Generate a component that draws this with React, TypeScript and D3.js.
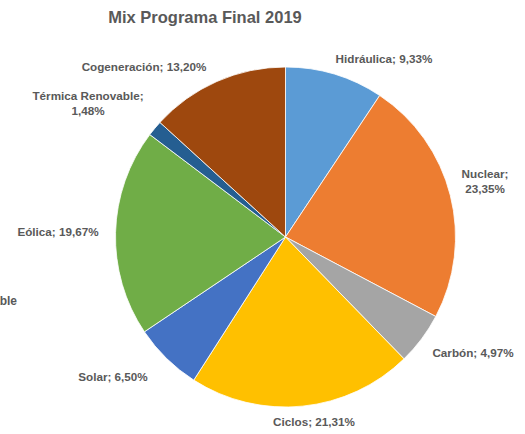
import React, { useMemo } from "react";
import * as d3 from "d3";

// ===== data =====
const categories = [
  "Hidráulica",
  "Nuclear",
  "Carbón",
  "Ciclos",
  "Solar",
  "Eólica",
  "Térmica Renovable",
  "Cogeneración",
];
const values = [9.33, 23.35, 4.97, 21.31, 6.5, 19.67, 1.48, 13.2];
const colors = [
  "#5B9BD5",
  "#ED7D31",
  "#A5A5A5",
  "#FFC000",
  "#4472C4",
  "#70AD47",
  "#255E91",
  "#9E480E",
];

// label layout (text lines + centre point), not data
const labelLines: string[][] = [
  ["Hidráulica; 9,33%"],
  ["Nuclear;", "23,35%"],
  ["Carbón; 4,97%"],
  ["Ciclos; 21,31%"],
  ["Solar; 6,50%"],
  ["Eólica; 19,67%"],
  ["Térmica Renovable;", "1,48%"],
  ["Cogeneración; 13,20%"],
];
const labelPos: [number, number][] = [
  [384, 63],
  [485, 185],
  [473, 357],
  [314, 426],
  [113, 381],
  [58, 236],
  [88, 107],
  [144, 71],
];

const W = 525;
const H = 434;
const TEXT = "#595959";
const FONT = "'Liberation Sans', Arial, sans-serif";

export default function App() {
  const cx = 285.5;
  const cy = 237;
  const r = 170;

  const arcs = useMemo(() => {
    const pie = d3
      .pie<number>()
      .sort(null)
      .value((d) => d);
    return pie(values);
  }, []);

  const arc = d3.arc<d3.PieArcDatum<number>>().innerRadius(0).outerRadius(r);

  return (
    <svg
      width={W}
      height={H}
      style={{ position: "absolute", left: 0, top: 0, background: "#fff" }}
      fontFamily={FONT}
    >
      <text
        x={205}
        y={23}
        textAnchor="middle"
        fontSize={16.5}
        fontWeight="bold"
        fill={TEXT}
      >
        Mix Programa Final 2019
      </text>

      <g transform={`translate(${cx},${cy})`}>
        {arcs.map((a, i) => (
          <path
            key={categories[i]}
            d={arc(a) || ""}
            fill={colors[i]}
            stroke="#fff"
            strokeWidth={0.8}
          />
        ))}
      </g>

      {labelLines.map((lines, i) => (
        <text
          key={i}
          textAnchor="middle"
          fontSize={11.7}
          fontWeight="bold"
          fill={TEXT}
        >
          {lines.map((l, j) => (
            <tspan
              key={j}
              x={labelPos[i][0]}
              y={labelPos[i][1] - (lines.length - 1) * 7.5 + j * 15}
            >
              {l}
            </tspan>
          ))}
        </text>
      ))}

      {/* legend entry partly outside the left edge, as in the source */}
      <text
        x={17}
        y={305}
        textAnchor="end"
        fontSize={12}
        fontWeight="bold"
        fill={TEXT}
      >
        Térmica Renovable
      </text>
    </svg>
  );
}
